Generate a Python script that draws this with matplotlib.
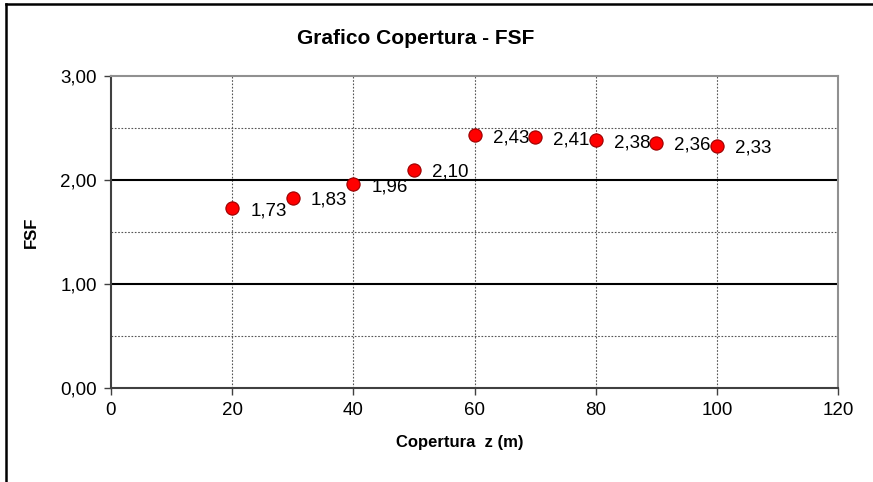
import matplotlib.pyplot as plt
from matplotlib.lines import Line2D
from matplotlib.ticker import MultipleLocator, FixedLocator

plt.rcParams['font.family'] = ['Liberation Sans', 'DejaVu Sans']

# cover depth (m) and safety factor
copertura = [20, 30, 40, 50, 60, 70, 80, 90, 100]
fsf = [1.73, 1.83, 1.96, 2.10, 2.43, 2.41, 2.38, 2.36, 2.33]
x_ticks = [0, 20, 40, 60, 80, 100, 120]
y_ticks = [0.0, 1.0, 2.0, 3.0]

fig = plt.figure(figsize=(8.73, 4.82), dpi=100)
ax = fig.add_axes([111 / 873, 1 - 388 / 482, (838 - 111) / 873, (388 - 76) / 482])

ax.set_xlim(0, 120)
ax.set_ylim(0, 3)
ax.xaxis.set_major_locator(FixedLocator(x_ticks))
ax.yaxis.set_major_locator(FixedLocator(y_ticks))
ax.yaxis.set_minor_locator(MultipleLocator(0.5))
ax.set_yticklabels([f"{v:.2f}".replace('.', ',') for v in y_ticks])
ax.tick_params(axis='both', which='major', direction='out', length=5, width=1,
               color='#404040', labelsize=13.5, pad=5)
ax.tick_params(axis='y', which='minor', length=0)

# grid: vertical dotted, horizontal solid majors and dotted minors
for xv in x_ticks[1:-1]:
    ax.axvline(xv, color='#555555', lw=0.8, ls=(0, (1.5, 1.5)), zorder=1)
ax.axhline(1.0, color='black', lw=1.5, zorder=1)
ax.axhline(2.0, color='black', lw=1.5, zorder=1)
for yv in [0.5, 1.5, 2.5]:
    ax.axhline(yv, color='#555555', lw=0.8, ls=(0, (1.5, 1.5)), zorder=1)

for side in ['top', 'right']:
    ax.spines[side].set_color('#909090')
    ax.spines[side].set_linewidth(1.5)
for side in ['left', 'bottom']:
    ax.spines[side].set_color('#404040')
    ax.spines[side].set_linewidth(1.5)

ax.plot(copertura, fsf, ls='none', marker='o', markersize=9.5,
        markerfacecolor='#ff0000', markeredgecolor='#990000',
        markeredgewidth=0.8, zorder=5, clip_on=False)

for xv, yv in zip(copertura, fsf):
    ax.annotate(f"{yv:.2f}".replace('.', ','), (xv, yv), xytext=(13, -2),
                textcoords='offset points', ha='left', va='center',
                fontsize=13.5, zorder=6)

fig.text(416 / 873, 1 - 38 / 482, 'Grafico Copertura - FSF', ha='center',
         va='center', fontsize=15, fontweight='bold')
fig.text(460 / 873, 1 - 443 / 482, 'Copertura  z (m)', ha='center',
         va='center', fontsize=12, fontweight='bold')
fig.text(31 / 873, 1 - 232 / 482, 'FSF', ha='center', va='center',
         rotation=90, fontsize=12, fontweight='bold')

# chart frame (top and left edges)
fig.add_artist(Line2D([6 / 873, 6 / 873], [0, 1 - 4 / 482], transform=fig.transFigure,
                      color='black', lw=1.8))
fig.add_artist(Line2D([6 / 873, 1], [1 - 4 / 482, 1 - 4 / 482], transform=fig.transFigure,
                      color='black', lw=1.8))

fig.savefig('out.png', dpi=100)
